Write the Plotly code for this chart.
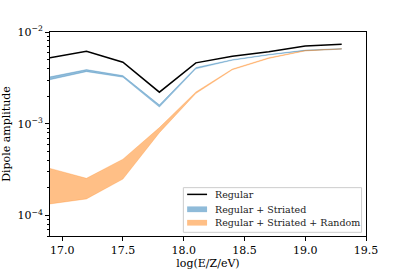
import plotly.graph_objects as go
import numpy as np

x = [16.9, 17.2, 17.5, 17.8, 18.1, 18.4, 18.7, 19.0, 19.3]
regular = [5.23e-3, 6.17e-3, 4.68e-3, 2.21e-3, 4.61e-3, 5.43e-3, 6.11e-3, 7.05e-3, 7.34e-3]
striated_hi = [3.25e-3, 3.90e-3, 3.35e-3, 1.61e-3, 4.10e-3, 5.00e-3, 5.70e-3, 6.35e-3, 6.60e-3]
striated_lo = [3.02e-3, 3.70e-3, 3.22e-3, 1.52e-3, 3.97e-3, 4.92e-3, 5.62e-3, 6.25e-3, 6.50e-3]
random_hi = [3.27e-4, 2.55e-4, 4.12e-4, 9.1e-4, 2.22e-3, 3.95e-3, 5.25e-3, 6.30e-3, 6.58e-3]
random_lo = [1.34e-4, 1.52e-4, 2.50e-4, 8.0e-4, 2.14e-3, 3.87e-3, 5.15e-3, 6.22e-3, 6.52e-3]

xticks = [17.0, 17.5, 18.0, 18.5, 19.0, 19.5]
yticks = [1e-4, 1e-3, 1e-2]
yticktext = ["10<sup>\u22124</sup>", "10<sup>\u22123</sup>", "10<sup>\u22122</sup>"]
legend_labels = ["Regular", "Regular + Striated", "Regular + Striated + Random"]

font = "'DejaVu Serif', 'Liberation Serif', serif"
blue = "rgba(31,119,180,0.5)"
orange = "rgba(255,127,14,0.5)"

fig = go.Figure()
fig.add_trace(go.Scatter(x=x, y=regular, mode="lines", name=legend_labels[0],
                         line=dict(color="black", width=1.5), showlegend=False))
fig.add_trace(go.Scatter(x=x, y=striated_lo, mode="lines", showlegend=False,
                         line=dict(color=blue, width=0.5), hoverinfo="skip"))
fig.add_trace(go.Scatter(x=x, y=striated_hi, mode="lines", name=legend_labels[1],
                         line=dict(color=blue, width=0.5), fill="tonexty", fillcolor=blue,
                         showlegend=False))
fig.add_trace(go.Scatter(x=x, y=random_lo, mode="lines", showlegend=False,
                         line=dict(color=orange, width=0.5), hoverinfo="skip"))
fig.add_trace(go.Scatter(x=x, y=random_hi, mode="lines", name=legend_labels[2],
                         line=dict(color=orange, width=0.5), fill="tonexty", fillcolor=orange,
                         showlegend=False))

# legend drawn in paper coordinates
shapes = [dict(type="rect", xref="paper", yref="paper", x0=0.422, x1=0.986, y0=0.018, y1=0.237,
               line=dict(color="#cccccc", width=1), fillcolor="rgba(255,255,255,0.8)", layer="above")]
rows = [0.204, 0.131, 0.065]
sym_x0, sym_x1 = 0.434, 0.497
shapes.append(dict(type="line", xref="paper", yref="paper", x0=sym_x0, x1=sym_x1,
                   y0=rows[0], y1=rows[0], line=dict(color="black", width=1.5), layer="above"))
for yy, c in zip(rows[1:], [blue, orange]):
    shapes.append(dict(type="rect", xref="paper", yref="paper", x0=sym_x0, x1=sym_x1,
                       y0=yy - 0.014, y1=yy + 0.014, line=dict(width=0), fillcolor=c, layer="above"))
annotations = [dict(xref="paper", yref="paper", x=0.519, y=yy, text=t, showarrow=False,
                    xanchor="left", yanchor="middle", borderpad=0,
                    font=dict(family=font, size=9.5, color="#222"))
               for yy, t in zip(rows, legend_labels)]

minor_y = [m * 10.0 ** e for e in (-5, -4, -3) for m in range(2, 10)]

fig.update_layout(
    width=407, height=271,
    margin=dict(l=50, r=41, t=32, b=35, autoexpand=False),
    paper_bgcolor="white", plot_bgcolor="white",
    font=dict(family=font, size=11, color="black"),
    showlegend=False,
    shapes=shapes, annotations=annotations,
)
fig.update_xaxes(range=[16.9, 19.5], tickvals=xticks, ticktext=[f"{v:.1f}" for v in xticks],
                 tickfont=dict(family=font, size=11, color="black"), automargin=False,
                 ticks="outside", ticklen=4, tickwidth=0.8, tickcolor="black",
                 showline=True, linecolor="black", linewidth=0.8, mirror=True,
                 showgrid=False, zeroline=False,
                 title=dict(text="log(E/Z/eV)", standoff=2, font=dict(family=font, size=11)))
fig.update_yaxes(type="log", range=[np.log10(6e-5), -2], tickvals=yticks, ticktext=yticktext,
                 tickfont=dict(family=font, size=11, color="black"), automargin=False,
                 ticks="outside", ticklen=4, tickwidth=0.8, tickcolor="black",
                 showline=True, linecolor="black", linewidth=0.8, mirror=True,
                 showgrid=False, zeroline=False,
                 minor=dict(tickvals=minor_y, ticks="outside", ticklen=2, tickwidth=0.6,
                            tickcolor="black", showgrid=False),
                 title=dict(text="Dipole amplitude", standoff=6, font=dict(family=font, size=11)))

fig.write_html("out.html", config={"displayModeBar": False},
               post_script="document.body.style.margin='0';")
